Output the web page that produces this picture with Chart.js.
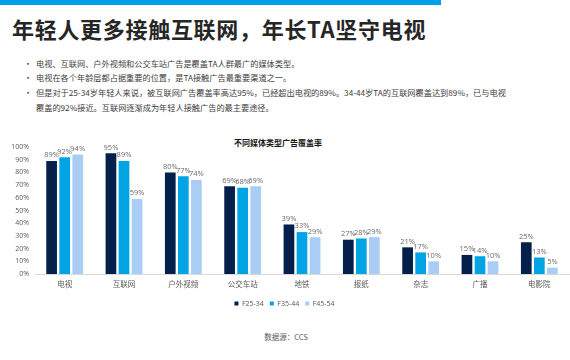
<!DOCTYPE html>
<html>
<head>
<meta charset="utf-8">
<script src="https://cdn.jsdelivr.net/npm/chart.js@4/dist/chart.umd.min.js"></script>
<style>
  html, body { margin: 0; padding: 0; background: #fff; }
  body { width: 570px; height: 360px; position: relative; overflow: hidden;
         font-family: "Noto Sans CJK SC", "Noto Sans", sans-serif; }
  #topbar { position: absolute; left: 0; top: 0; width: 441px; height: 5px; background: #00a0e9; }
  #title { position: absolute; left: 12px; top: 14px; font-size: 22px; font-weight: bold; color: #262626;
           white-space: nowrap; line-height: 28px; letter-spacing: 0.7px; }
  .bullet { position: absolute; left: 24px; font-size: 8.2px; color: #404040; white-space: nowrap; line-height: 14px; }
  .bullet span.dot { display: inline-block; width: 12px; }
  #ctitle { position: absolute; left: 0; width: 556px; text-align: center; top: 137px; font-size: 8px;
            font-weight: bold; color: #1a1a1a; }
  #source { position: absolute; left: 0; width: 572px; text-align: center; top: 331px; font-size: 7.5px; color: #595959; }
  #wrap { position: absolute; left: 0; top: 135px; width: 570px; height: 182px; }
</style>
</head>
<body>
<div id="topbar"></div>
<div id="title">年轻人更多接触互联网，年长TA坚守电视</div>
<div class="bullet" style="top:56px"><span class="dot">•</span>电视、互联网、户外视频和公交车站广告是覆盖TA人群最广的媒体类型。</div>
<div class="bullet" style="top:70px"><span class="dot">•</span>电视在各个年龄层都占据重要的位置，是TA接触广告最重要渠道之一。</div>
<div class="bullet" style="top:85px"><span class="dot">•</span>但是对于25-34岁年轻人来说，被互联网广告覆盖率高达95%，已经超出电视的89%。34-44岁TA的互联网覆盖达到89%，已与电视</div>
<div class="bullet" style="top:100px"><span class="dot"></span>覆盖的92%接近。互联网逐渐成为年轻人接触广告的最主要途径。</div>
<div id="ctitle">不同媒体类型广告覆盖率</div>
<div id="wrap"><canvas id="c"></canvas></div>
<div id="source">数据源：CCS</div>
<script>
const categories = ["电视", "互联网", "户外视频", "公交车站", "地铁", "报纸", "杂志", "广播", "电影院"];
const seriesNames = ["F25-34", "F35-44", "F45-54"];
const f25_34 = [89, 95, 80, 69, 39, 27, 21, 15, 25];
const f35_44 = [92, 89, 77, 68, 33, 28, 17, 14, 13];
const f45_54 = [94, 59, 74, 69, 29, 29, 10, 10, 5];
const yTicks = [0, 10, 20, 30, 40, 50, 60, 70, 80, 90, 100];

const colors = ["#04204a", "#00a3e4", "#a9cdf4"];
const FONT = '"Open Sans", "Noto Sans CJK SC", sans-serif';

const valueLabels = {
  id: 'valueLabels',
  afterDatasetsDraw(chart) {
    const ctx = chart.ctx;
    ctx.save();
    ctx.font = '7.5px ' + FONT;
    ctx.fillStyle = '#6b6b6b';
    ctx.textAlign = 'center';
    ctx.textBaseline = 'bottom';
    chart.data.datasets.forEach((ds, i) => {
      const meta = chart.getDatasetMeta(i);
      meta.data.forEach((bar, j) => {
        ctx.fillText(ds.data[j] + '%', bar.x, bar.y - 2);
      });
    });
    ctx.restore();
  }
};

new Chart(document.getElementById('c'), {
  type: 'bar',
  data: {
    labels: categories,
    datasets: [
      { label: seriesNames[0], data: f25_34, backgroundColor: colors[0] },
      { label: seriesNames[1], data: f35_44, backgroundColor: colors[1] },
      { label: seriesNames[2], data: f45_54, backgroundColor: colors[2] }
    ]
  },
  options: {
    responsive: true,
    maintainAspectRatio: false,
    animation: false,
    layout: { padding: { top: 12, right: 1, left: 0, bottom: 0 } },
    datasets: { bar: { categoryPercentage: 0.66, barPercentage: 0.82 } },
    scales: {
      x: {
        grid: { display: false, drawTicks: false, tickLength: 0 },
        border: { display: true, color: '#d9d9d9', width: 1 },
        ticks: { font: { family: FONT, size: 7.5 }, color: '#595959', padding: 6 },
        afterFit(scale) { scale.height -= 1; }
      },
      y: {
        min: 0, max: 100,
        afterBuildTicks(scale) { scale.ticks = yTicks.map(v => ({ value: v })); },
        afterFit(scale) { scale.width = 35; },
        grid: { display: false, drawTicks: false },
        border: { display: false },
        ticks: { font: { family: FONT, size: 7 }, color: '#595959', padding: 6,
                 callback: v => v + '%' }
      }
    },
    plugins: {
      legend: {
        position: 'bottom',
        labels: { boxWidth: 4, boxHeight: 4, padding: 6, font: { family: FONT, size: 7 }, color: '#595959' }
      },
      tooltip: { enabled: false }
    }
  },
  plugins: [valueLabels]
});
</script>
</body>
</html>
